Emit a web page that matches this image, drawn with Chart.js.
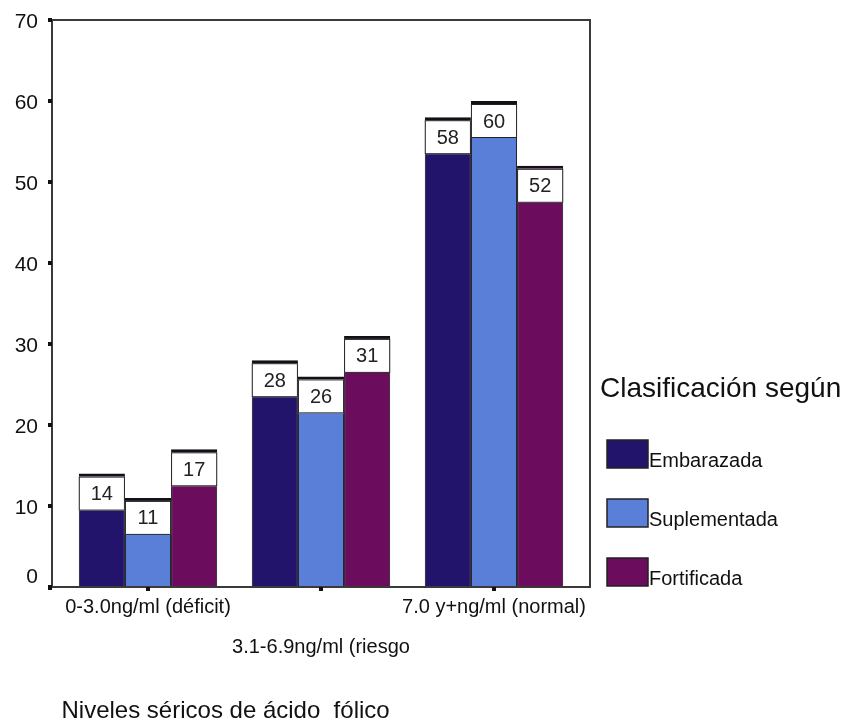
<!DOCTYPE html>
<html>
<head>
<meta charset="utf-8">
<title>Niveles séricos de ácido fólico</title>
<script src="https://cdn.jsdelivr.net/npm/chart.js@4/dist/chart.umd.min.js"></script>
<style>
  html, body { margin: 0; padding: 0; background: #ffffff; }
  #wrap { width: 845px; height: 723px; position: relative; }
</style>
</head>
<body>
<div id="wrap"><canvas id="c" width="845" height="723"></canvas></div>
<script>
// Categories and series
const categories = ['0-3.0ng/ml (déficit)', '3.1-6.9ng/ml (riesgo', '7.0 y+ng/ml (normal)'];
const seriesNames = ['Embarazada', 'Suplementada', 'Fortificada'];
const embarazada = [14, 28, 58];
const suplementada = [11, 26, 60];
const fortificada = [17, 31, 52];
const yTicks = [0, 10, 20, 30, 40, 50, 60, 70];
const axisTitle = 'Niveles séricos de ácido  fólico';
const legendTitle = 'Clasificación según';

const colors = ['#22136b', '#5a7fd8', '#6c0c5c'];
const FONT = '"Liberation Sans", Arial, sans-serif';
const FRAME_PAD = 9.5;

// Frame around the plot, small tick squares on the axes
const framePlugin = {
  id: 'frame',
  afterDatasetsDraw(chart) {
    const { ctx, chartArea: a, scales } = chart;
    const l = a.left - FRAME_PAD, r = a.right + FRAME_PAD;
    ctx.save();
    ctx.strokeStyle = '#3a3a3a';
    ctx.lineWidth = 2;
    ctx.strokeRect(l, a.top, r - l, a.bottom - a.top);
    ctx.fillStyle = '#111';
    yTicks.forEach(v => {
      const py = scales.y.getPixelForValue(v);
      ctx.fillRect(l - 4, py - 2, 4, 4);
    });
    categories.forEach((c, i) => {
      const px = scales.x.getPixelForValue(i);
      ctx.fillRect(px - 2, a.bottom, 4, 4);
    });
    ctx.fillRect(l - 4, a.bottom - 1, 4, 4);
    ctx.restore();
  }
};

// White value boxes at the top of each bar
const valueBoxPlugin = {
  id: 'valueBoxes',
  afterDatasetsDraw(chart) {
    const { ctx } = chart;
    ctx.save();
    chart.data.datasets.forEach((ds, di) => {
      const meta = chart.getDatasetMeta(di);
      meta.data.forEach((el, i) => {
        const { x, y, width } = el.getProps(['x', 'y', 'width'], true);
        const left = x - width / 2;
        const top = y + 3;
        const h = 34;
        ctx.fillStyle = '#ffffff';
        ctx.fillRect(left, top, width, h);
        ctx.strokeStyle = '#222';
        ctx.lineWidth = 1;
        ctx.strokeRect(left + 0.5, top + 0.5, width - 1, h - 1);
        ctx.fillStyle = '#222';
        ctx.font = '20px ' + FONT;
        ctx.textAlign = 'center';
        ctx.textBaseline = 'middle';
        ctx.fillText(String(ds.data[i]), x, top + h / 2 + 1);
      });
    });
    ctx.restore();
  }
};

// Legend block on the right
const legendPlugin = {
  id: 'sideLegend',
  afterDraw(chart) {
    const { ctx } = chart;
    ctx.save();
    ctx.fillStyle = '#111';
    ctx.textAlign = 'left';
    ctx.textBaseline = 'alphabetic';
    ctx.font = '28px ' + FONT;
    ctx.fillText(legendTitle, 600, 397);
    chart.data.datasets.forEach((ds, i) => {
      const top = 440 + i * 59;
      ctx.fillStyle = ds.backgroundColor;
      ctx.fillRect(607, top, 41, 28);
      ctx.strokeStyle = '#222';
      ctx.lineWidth = 1.5;
      ctx.strokeRect(607, top, 41, 28);
      ctx.fillStyle = '#111';
      ctx.font = '20px ' + FONT;
      ctx.fillText(ds.label, 649, top + 27);
    });
    ctx.restore();
  }
};

const series = [embarazada, suplementada, fortificada];

new Chart(document.getElementById('c'), {
  type: 'bar',
  data: {
    labels: categories,
    datasets: series.map((vals, i) => ({
      label: seriesNames[i],
      data: vals,
      backgroundColor: colors[i],
      borderColor: '#141018',
      borderWidth: { top: 3, left: 1, right: 1, bottom: 0 },
      borderSkipped: 'bottom',
      categoryPercentage: 0.8,
      barPercentage: 1.0
    }))
  },
  options: {
    responsive: false,
    animation: false,
    devicePixelRatio: 1,
    layout: { padding: { left: 0, top: 20, right: 264.5, bottom: 0 } },
    plugins: {
      legend: { display: false },
      tooltip: { enabled: false }
    },
    scales: {
      x: {
        offset: true,
        grid: { display: false, drawTicks: false },
        border: { display: false },
        ticks: {
          autoSkip: false,
          maxRotation: 0,
          minRotation: 0,
          padding: 0,
          color: '#111',
          font: { family: FONT, size: 20, lineHeight: 2 },
          callback: (v, i) => (i % 2 === 1 ? ['', categories[i]] : categories[i])
        },
        title: {
          display: true,
          text: axisTitle,
          align: 'start',
          color: '#111',
          padding: { top: 0, bottom: 0 },
          font: { family: FONT, size: 24, lineHeight: 1 }
        },
        afterFit(scale) {
          scale.height = 136;
          scale.paddingLeft = 0;
          scale.paddingRight = 0;
        }
      },
      y: {
        min: 0,
        max: 70,
        grid: { display: false, drawTicks: false },
        border: { display: false },
        ticks: {
          stepSize: 10,
          padding: 23.5,
          labelOffset: 2.5,
          color: '#111',
          font: { family: FONT, size: 21, lineHeight: 1.2 },
          callback: v => (v === 0 ? ['0', ''] : String(v))
        },
        afterFit(scale) {
          scale.width = 61.5;
          scale.paddingTop = 0;
          scale.paddingBottom = 0;
        }
      }
    }
  },
  plugins: [framePlugin, valueBoxPlugin, legendPlugin]
});
</script>
</body>
</html>
